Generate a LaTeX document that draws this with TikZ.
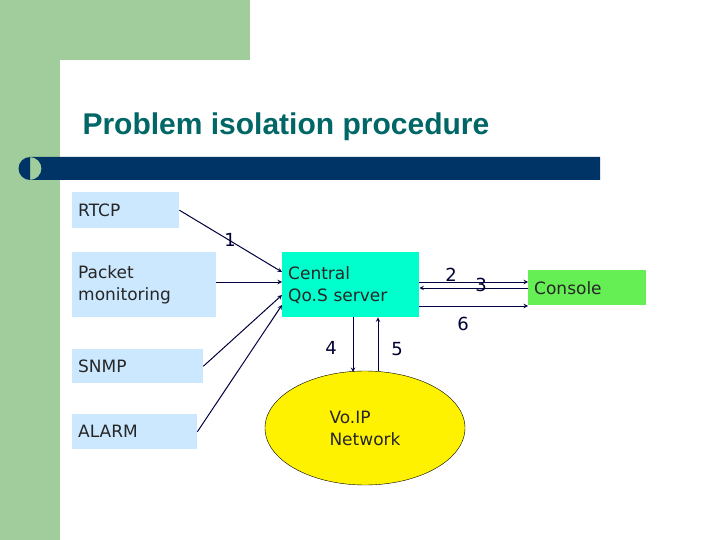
\documentclass[tikz,border=0pt]{standalone}
\usepackage{fontspec}
\usetikzlibrary{shapes.geometric}
\setmainfont{DejaVu Sans}
\newfontfamily\titlefont{Liberation Sans}
\definecolor{lblue}{RGB}{204,232,255}
\definecolor{sgreen}{RGB}{160,205,155}
\definecolor{titlecol}{RGB}{0,102,102}
\definecolor{barcol}{RGB}{0,51,102}
\definecolor{qoscol}{RGB}{0,255,204}
\definecolor{concol}{RGB}{102,238,85}
\begin{document}
\begin{tikzpicture}[x=1pt,y=-1pt,
  box/.style={fill=#1,inner sep=0pt,anchor=north west,align=left,text=black!85,font=\fontsize{17}{22}\selectfont},
  arr/.style={->,>=stealth,draw=blue!25!black,line width=1pt},
  lab/.style={font=\fontsize{18}{20}\selectfont,text=blue!20!black}]
  \useasboundingbox (0,0) rectangle (720,540);
  % ---- background ----
  \fill[sgreen] (0,0) rectangle (250,60);
  \fill[sgreen] (0,0) rectangle (60,540);
  \fill[white] (60,540) -- (60,90) arc[start angle=180,end angle=90,radius=30] -- (720,60) -- (720,540) -- cycle;
  \node[anchor=west,font=\titlefont\bfseries\fontsize{30}{32}\selectfont,text=titlecol] (title) at (79,127) {Problem isolation procedure};
  \fill[barcol] (30,168.5) circle (11.5) (30,157) rectangle (600,180);
  % ---- nodes ----
  \node[box=lblue,minimum width=101,minimum height=36,text width=95,inner xsep=6pt] (rtcp) at (72,192) {RTCP};
  \node[box=lblue,minimum width=138,minimum height=65,text width=132,inner xsep=6pt] (pkt) at (72,252) {Packet\\monitoring};
  \node[box=lblue,minimum width=125,minimum height=34,text width=119,inner xsep=6pt] (snmp) at (72,349) {SNMP};
  \node[box=lblue,minimum width=119,minimum height=35,text width=113,inner xsep=6pt] (alarm) at (72,414) {ALARM};
  \node[box=qoscol,minimum width=131,minimum height=65,text width=125,inner xsep=6pt] (qos) at (282,252) {Central\\Qo.S server};
  \node[box=concol,minimum width=112,minimum height=35,text width=106,inner xsep=6pt] (con) at (528,270) {Console};
  \node[ellipse,draw=black,fill=yellow,minimum width=200,minimum height=114,inner sep=0pt,align=left,text=black!85,font=\fontsize{17}{22}\selectfont] (voip) at (365,428) {Vo.IP\\Network};
  \coordinate (v4) at (353,372);
  \coordinate (v5) at (378,371);
  % ---- connectors ----
  \draw[arr] (rtcp.east) -- (qos.north west |- 0,272);
  \draw[arr] (pkt.east |- 0,282) -- (qos.west |- 0,282);
  \draw[arr] (snmp.east) -- (qos.west |- 0,295);
  \draw[arr] (alarm.east) -- (qos.west |- 0,305);
  \draw[arr] (qos.east |- 0,282) -- (con.west |- 0,282);
  \draw[arr] (con.west |- 0,288) -- (qos.east |- 0,288);
  \draw[arr] (qos.east |- 0,306) -- (con.west |- 0,306);
  \draw[arr] (qos.south -| v4) -- (v4);
  \draw[arr] (v5) -- (qos.south -| v5);
  % ---- labels ----
  \node[lab] (l1) at (230,240) {1};
  \node[lab] (l2) at (451,275) {2};
  \node[lab] (l3) at (481,285) {3};
  \node[lab] (l6) at (463,324) {6};
  \node[lab] (l4) at (331,348) {4};
  \node[lab] (l5) at (397,349) {5};
\end{tikzpicture}
\end{document}
